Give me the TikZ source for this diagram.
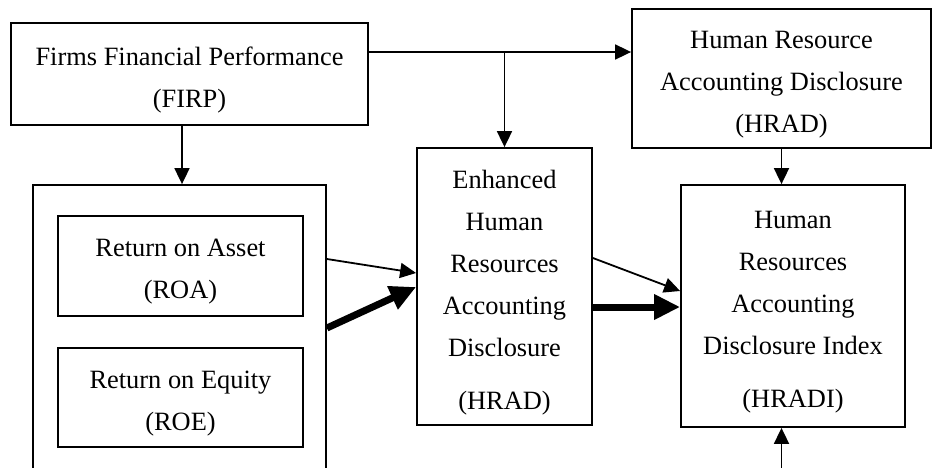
\documentclass[tikz,border=0pt]{standalone}
\usepackage{fontspec}
\setmainfont{Liberation Serif}
\usetikzlibrary{arrows.meta}
\begin{document}
\begin{tikzpicture}[x=1pt,y=-1pt,
  box/.style={draw,line width=1.8pt,inner sep=0pt},
  txt/.style={align=center,inner sep=0pt,yshift=-6pt,
    font=\fontsize{26.4}{42}\selectfont},
  thin/.style={line width=1.8pt,-{Triangle[length=16pt,width=15pt]}},
  thick/.style={line width=7pt,-{Triangle[length=26pt,width=24pt]}}]
\clip (0,0) rectangle (932,467);
\fill[white] (0,0) rectangle (932,467);
\node[box,minimum width=357pt,minimum height=102pt,
  label={[txt]center:Firms Financial Performance\\(FIRP)}] (firms) at (189.5,74) {};
\node[box,minimum width=293pt,minimum height=335pt] (perf) at (179.5,352.5) {};
\node[box,minimum width=245pt,minimum height=100pt,
  label={[txt]center:Return on Asset\\(ROA)}] (roa) at (180.5,266) {};
\node[box,minimum width=245pt,minimum height=99pt,
  label={[txt]center:Return on Equity\\(ROE)}] (roe) at (180.5,397.5) {};
\node[box,minimum width=175pt,minimum height=277pt,
  label={[txt]center:Enhanced\\Human\\Resources\\Accounting\\Disclosure\\[11pt](HRAD)}]
  (enh) at (504.5,286.5) {};
\node[box,minimum width=299pt,minimum height=139pt,
  label={[txt]center:Human Resource\\Accounting Disclosure\\(HRAD)}]
  (hrad) at (781.5,78.5) {};
\node[box,minimum width=224pt,minimum height=242pt,
  label={[txt]center:Human\\Resources\\Accounting\\Disclosure Index\\[11pt](HRADI)}]
  (hradi) at (793,306) {};
\coordinate (topy) at (0,52);
\coordinate (bot) at (781.5,480);
% connectors
\draw[thin] (firms.south -| 182,0) -- (perf.north -| 182,0);
\draw[thin] (firms.east |- topy) -- (hrad.west |- topy);
\draw[thin] (enh.north |- topy) -- (enh.north);
\draw[thin] (hrad.south) -- (hrad.south |- hradi.north);
\draw[thin] (bot) -- (bot |- hradi.south);
\draw[thin] (perf.east |- 0,259) -- (enh.west |- 0,273);
\draw[thick] (perf.east |- 0,328) -- (enh.west |- 0,287);
\draw[thin] (enh.east |- 0,258) -- (hradi.west |- 0,291);
\draw[thick] (enh.east |- 0,307) -- (hradi.west |- 0,307);
\end{tikzpicture}
\end{document}
